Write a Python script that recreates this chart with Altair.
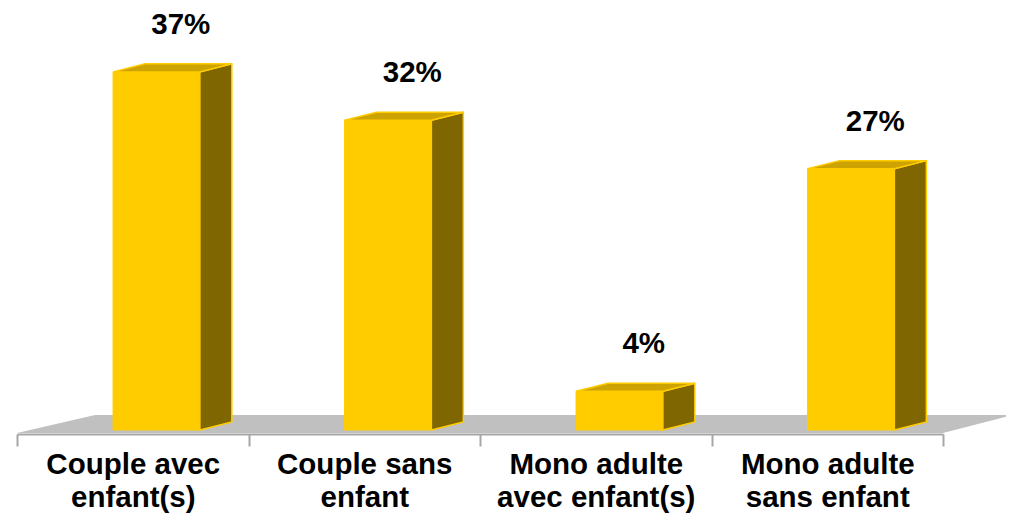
import altair as alt
import pandas as pd

# ---- data ----
categories = [
    "Couple avec\nenfant(s)",
    "Couple sans\nenfant",
    "Mono adulte\navec enfant(s)",
    "Mono adulte\nsans enfant",
]
values = [37, 32, 4, 27]

# ---- 3D styling constants (in scale units) ----
BAR_L, BAR_R = 0.415, 0.79      # front face within each category slot
DX, DY = 0.138, 0.83             # depth offset (x slot units, y percent units)
FLOOR_FRONT, FLOOR_BACK = -0.31, 1.55
FLOOR_BACK_L, FLOOR_BACK_R = 0.337, 4.302
N = len(categories)

FRONT = "#FFCC00"
TOP = "#CCA300"
SIDE = "#806600"
FLOOR = "#C0C0C0"
AXIS = "#A6A6A6"
FONT = "Liberation Sans"

front_rows, side_rows, top_rows = [], [], []
for i, (c, v) in enumerate(zip(categories, values)):
    xl, xr = i + BAR_L, i + BAR_R
    front_rows.append({"category": c, "value": v, "base": 0, "x": xl, "x2": xr,
                       "label": f"{v}%"})
    side_rows += [
        {"bar": c, "x": xr, "lo": 0, "hi": v},
        {"bar": c, "x": xr + DX, "lo": DY, "hi": v + DY},
    ]
    top_rows += [
        {"bar": c, "x": xl, "lo": v, "hi": v},
        {"bar": c, "x": xl + DX, "lo": v, "hi": v + DY},
        {"bar": c, "x": xr, "lo": v, "hi": v + DY},
        {"bar": c, "x": xr + DX, "lo": v + DY, "hi": v + DY},
    ]

front_df = pd.DataFrame(front_rows)
side_df = pd.DataFrame(side_rows)
top_df = pd.DataFrame(top_rows)
floor_df = pd.DataFrame({
    "x": [0, FLOOR_BACK_L, N, FLOOR_BACK_R],
    "lo": [FLOOR_FRONT, FLOOR_FRONT, FLOOR_FRONT, FLOOR_BACK],
    "hi": [FLOOR_FRONT, FLOOR_BACK, FLOOR_BACK, FLOOR_BACK],
})

xs = alt.Scale(domain=[0, N], nice=False, zero=False)
ys = alt.Scale(domain=[-0.413, 43.6], nice=False, zero=False)

floor = alt.Chart(floor_df).mark_area(color=FLOOR).encode(
    x=alt.X("x:Q", scale=xs, axis=None),
    y=alt.Y("lo:Q", scale=ys, axis=None),
    y2="hi:Q",
)

front = alt.Chart(front_df).mark_bar(color=FRONT, stroke=FRONT, strokeWidth=1).encode(
    x=alt.X("x:Q", scale=xs, axis=None),
    x2="x2:Q",
    y=alt.Y("value:Q", scale=ys, axis=None),
    y2="base:Q",
)

side = alt.Chart(side_df).mark_area(color=SIDE, stroke=FRONT, strokeWidth=1.5).encode(
    x=alt.X("x:Q", scale=xs, axis=None),
    y=alt.Y("lo:Q", scale=ys, axis=None),
    y2="hi:Q",
    detail="bar:N",
)

top = alt.Chart(top_df).mark_area(color=TOP, stroke=FRONT, strokeWidth=1.5).encode(
    x=alt.X("x:Q", scale=xs, axis=None),
    y=alt.Y("lo:Q", scale=ys, axis=None),
    y2="hi:Q",
    detail="bar:N",
)

labels = alt.Chart(front_df).mark_text(
    font=FONT, fontSize=29.5, fontWeight="bold", color="black",
    dy=-38, xOffset=48, baseline="alphabetic", align="center",
).encode(
    x=alt.X(
        "category:N",
        sort=categories,
        scale=alt.Scale(type="band", paddingInner=0, paddingOuter=0),
        axis=alt.Axis(
            orient="bottom", title=None, labelAngle=0,
            labelExpr="split(datum.label, '\\n')",
            labelFont=FONT, labelFontSize=29.5, labelFontWeight="bold",
            labelColor="black", labelLineHeight=33, labelPadding=4,
            labelLimit=400, labelBaseline="top",
            tickBand="extent", tickSize=12, tickWidth=2, tickColor=AXIS,
            domainColor=AXIS, domainWidth=2, grid=False,
        ),
    ),
    y=alt.Y("value:Q", scale=ys, axis=None),
    text="label:N",
)

chart = (
    alt.layer(floor, front, side, top, labels)
    .resolve_scale(x="independent")
    .properties(width=926, height=426,
                autosize=alt.AutoSizeParams(type="none"),
                padding={"left": 9, "top": 0, "right": 63, "bottom": 84})
    .configure_view(strokeWidth=0)
)

chart.save("out.html", embed_options={"renderer": "svg", "actions": False})
